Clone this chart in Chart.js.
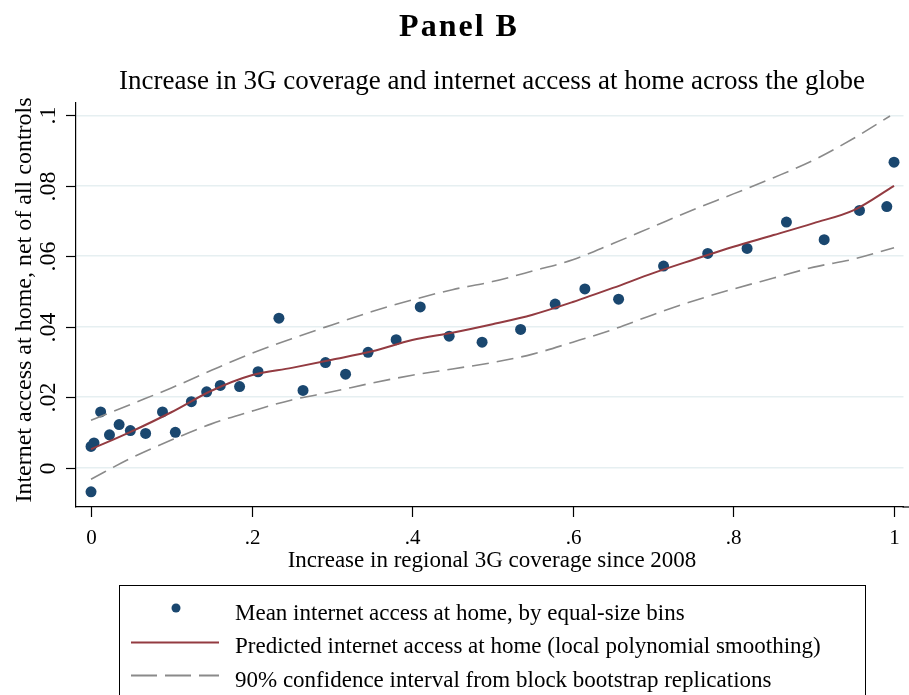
<!DOCTYPE html>
<html>
<head>
<meta charset="utf-8">
<script src="https://cdn.jsdelivr.net/npm/chart.js@4.4.1/dist/chart.umd.min.js"></script>
<style>
html,body{margin:0;padding:0;background:#fff;}
canvas{display:block;}
</style>
</head>
<body>
<canvas id="c" width="909" height="695" style="width:909px;height:695px"></canvas>
<script>
// ---- Data ----
const binX = [0, 0.0037, 0.012, 0.023, 0.035, 0.049, 0.068, 0.089, 0.105, 0.125, 0.144, 0.161, 0.185, 0.208, 0.234, 0.264, 0.292, 0.317, 0.345, 0.380, 0.410, 0.446, 0.487, 0.535, 0.578, 0.615, 0.657, 0.713, 0.768, 0.817, 0.866, 0.913, 0.957, 0.991, 1.0, 0];
const binY = [0.0060, 0.0070, 0.0158, 0.0093, 0.0122, 0.0105, 0.0097, 0.0158, 0.0100, 0.0187, 0.0215, 0.0233, 0.0230, 0.0272, 0.0424, 0.0219, 0.0298, 0.0265, 0.0327, 0.0363, 0.0456, 0.0373, 0.0356, 0.0392, 0.0464, 0.0507, 0.0478, 0.0572, 0.0608, 0.0622, 0.0697, 0.0647, 0.0730, 0.0741, 0.0867, -0.0069];

const fitX = [0, 0.05, 0.1, 0.15, 0.2, 0.25, 0.3, 0.35, 0.4, 0.45, 0.5, 0.55, 0.6, 0.65, 0.7, 0.75, 0.8, 0.85, 0.9, 0.95, 1.0];
const fitY = [0.0052, 0.0102, 0.0157, 0.0218, 0.0262, 0.0283, 0.0306, 0.0330, 0.0362, 0.0383, 0.0407, 0.0434, 0.0470, 0.0510, 0.0552, 0.0590, 0.0627, 0.0660, 0.0694, 0.0731, 0.0800];
const ciUpperX = [0, 0.05, 0.1, 0.15, 0.2, 0.25, 0.3, 0.35, 0.4, 0.45, 0.5, 0.55, 0.6, 0.65, 0.7, 0.75, 0.8, 0.85, 0.9, 0.95, 0.995];
const ciUpperY = [0.0134, 0.0180, 0.0226, 0.0276, 0.0324, 0.0366, 0.0405, 0.0443, 0.0476, 0.0505, 0.0528, 0.0558, 0.0590, 0.0636, 0.0684, 0.0732, 0.0777, 0.0823, 0.0873, 0.0935, 0.0998];
const ciLowerX = [0, 0.05, 0.1, 0.15, 0.2, 0.25, 0.3, 0.35, 0.4, 0.45, 0.5, 0.55, 0.6, 0.65, 0.7, 0.75, 0.8, 0.85, 0.9, 0.95, 1.0];
const ciLowerY = [-0.0033, 0.0027, 0.0078, 0.0124, 0.0160, 0.0192, 0.0215, 0.0240, 0.0262, 0.0280, 0.0298, 0.0322, 0.0356, 0.0392, 0.0434, 0.0473, 0.0507, 0.0538, 0.0569, 0.0592, 0.0624];

const xTicks = [0, 0.2, 0.4, 0.6, 0.8, 1];
const xTickLabels = ['0', '.2', '.4', '.6', '.8', '1'];
const yTicks = [0, 0.02, 0.04, 0.06, 0.08, 0.1];
const yTickLabels = ['0', '.02', '.04', '.06', '.08', '.1'];

const titleText = 'Panel B';
const subtitleText = 'Increase in 3G coverage and internet access at home across the globe';
const xAxisTitle = 'Increase in regional 3G coverage since 2008';
const yAxisTitle = 'Internet access at home, net of all controls';
const legendLabels = [
  'Mean internet access at home, by equal-size bins',
  'Predicted internet access at home (local polynomial smoothing)',
  '90% confidence interval from block bootstrap replications'
];

const NAVY = '#1a476f', RED = '#933b41', GRAY = '#8a8a8a';
const FONT = '"Liberation Serif", "Times New Roman", serif';

const toPts = (xs, ys) => xs.map((x, i) => ({x: x, y: ys[i]}));

const decor = {
  id: 'decor',
  afterDraw(chart) {
    const ctx = chart.ctx;
    const xs = chart.scales.x, ys = chart.scales.y;
    const area = chart.chartArea;
    ctx.save();
    ctx.fillStyle = '#000';
    ctx.strokeStyle = '#000';
    // extend x axis line to the right edge
    ctx.lineWidth = 1.2;
    ctx.beginPath();
    ctx.moveTo(area.right - 1, area.bottom);
    ctx.lineTo(chart.width, area.bottom);
    ctx.stroke();
    ctx.textAlign = 'center';
    ctx.textBaseline = 'alphabetic';
    // title
    ctx.font = 'bold 32px ' + FONT;
    try { ctx.letterSpacing = '2px'; } catch (e) {}
    ctx.fillText(titleText, 459, 36);
    try { ctx.letterSpacing = '0px'; } catch (e) {}
    // subtitle
    ctx.font = '27px ' + FONT;
    ctx.fillText(subtitleText, 492, 89);
    // x ticks
    ctx.lineWidth = 1.2;
    ctx.font = '21px ' + FONT;
    xTicks.forEach((v, i) => {
      const px = Math.round(xs.getPixelForValue(v)) + 0.5;
      ctx.beginPath();
      ctx.moveTo(px, area.bottom);
      ctx.lineTo(px, area.bottom + 10);
      ctx.stroke();
      ctx.fillText(xTickLabels[i], px, 544);
    });
    ctx.font = '23px ' + FONT;
    ctx.fillText(xAxisTitle, 492, 567);
    // y ticks
    ctx.font = '24px ' + FONT;
    yTicks.forEach((v, i) => {
      const py = Math.round(ys.getPixelForValue(v)) + 0.5;
      ctx.beginPath();
      ctx.moveTo(area.left - 10, py);
      ctx.lineTo(area.left, py);
      ctx.stroke();
      ctx.save();
      ctx.translate(55, py);
      ctx.rotate(-Math.PI / 2);
      ctx.fillText(yTickLabels[i], 0, 0);
      ctx.restore();
    });
    ctx.save();
    ctx.translate(31, 300);
    ctx.rotate(-Math.PI / 2);
    ctx.font = '24px ' + FONT;
    ctx.fillText(yAxisTitle, 0, 0);
    ctx.restore();
    // legend
    ctx.lineWidth = 1;
    ctx.strokeRect(119.5, 585.5, 746, 200);
    ctx.textAlign = 'left';
    ctx.font = '23px ' + FONT;
    ctx.fillStyle = NAVY;
    ctx.beginPath();
    ctx.arc(176, 608, 4.5, 0, Math.PI * 2);
    ctx.fill();
    ctx.strokeStyle = RED;
    ctx.lineWidth = 1.8;
    ctx.beginPath();
    ctx.moveTo(131, 642.5);
    ctx.lineTo(219, 642.5);
    ctx.stroke();
    ctx.strokeStyle = GRAY;
    ctx.setLineDash([26, 8]);
    ctx.beginPath();
    ctx.moveTo(131, 675.5);
    ctx.lineTo(219, 675.5);
    ctx.stroke();
    ctx.setLineDash([]);
    ctx.fillStyle = '#000';
    ctx.fillText(legendLabels[0], 235, 620);
    ctx.fillText(legendLabels[1], 235, 653);
    ctx.fillText(legendLabels[2], 235, 687);
    ctx.restore();
  }
};

new Chart(document.getElementById('c'), {
  type: 'scatter',
  data: {
    datasets: [
      { label: legendLabels[2], data: toPts(ciUpperX, ciUpperY), showLine: true, borderColor: GRAY, borderWidth: 1.6, borderDash: [17, 8], pointRadius: 0, cubicInterpolationMode: 'monotone', fill: false },
      { label: legendLabels[2], data: toPts(ciLowerX, ciLowerY), showLine: true, borderColor: GRAY, borderWidth: 1.6, borderDash: [17, 8], pointRadius: 0, cubicInterpolationMode: 'monotone', fill: false },
      { label: legendLabels[1], data: toPts(fitX, fitY), showLine: true, borderColor: RED, borderWidth: 2, pointRadius: 0, cubicInterpolationMode: 'monotone', fill: false },
      { label: legendLabels[0], data: toPts(binX, binY), showLine: false, pointRadius: 5.5, pointBackgroundColor: NAVY, pointBorderColor: NAVY, pointBorderWidth: 0 }
    ]
  },
  options: {
    responsive: false,
    animation: false,
    devicePixelRatio: 1,
    layout: { padding: { left: 76, right: 0, top: 103, bottom: 188 } },
    plugins: { legend: { display: false }, tooltip: { enabled: false }, title: { display: false } },
    scales: {
      x: {
        type: 'linear', min: -0.0187, max: 1.0118,
        grid: { display: false, drawTicks: false },
        border: { display: true, color: '#000', width: 1.2 },
        ticks: { display: false },
        afterBuildTicks: s => { s.ticks = xTicks.map(v => ({value: v})); }
      },
      y: {
        type: 'linear', min: -0.0112, max: 0.1035,
        grid: { display: true, drawTicks: false, color: '#e6eff1', lineWidth: 1.5 },
        border: { display: true, color: '#000', width: 1.2 },
        ticks: { display: false },
        afterBuildTicks: s => { s.ticks = yTicks.map(v => ({value: v})); }
      }
    }
  },
  plugins: [decor]
});
</script>
</body>
</html>
